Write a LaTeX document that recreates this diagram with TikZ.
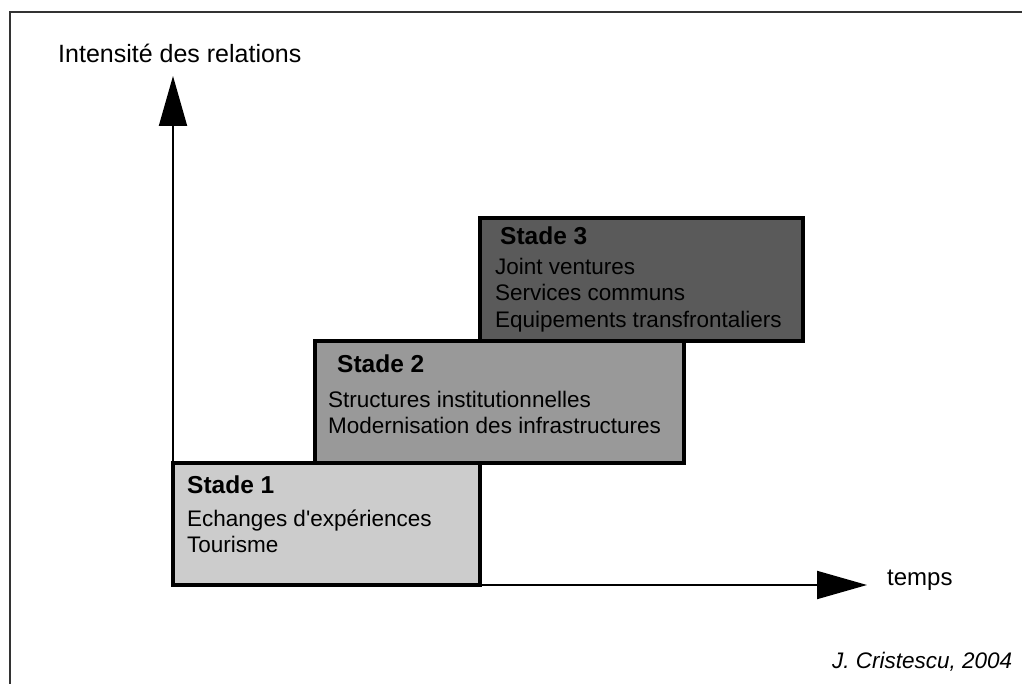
\documentclass[tikz,border=0pt]{standalone}
\usepackage{fontspec}
\setmainfont{Liberation Sans}
\usetikzlibrary{arrows.meta}
\definecolor{stageA}{HTML}{CCCCCC}
\definecolor{stageB}{HTML}{999999}
\definecolor{stageC}{HTML}{5A5A5A}
\definecolor{framegray}{HTML}{333333}
\tikzset{
  stagebox/.style={draw=black, line width=4pt, rectangle, inner sep=0pt, outer sep=0pt, anchor=north west},
  axisline/.style={line width=2pt, -{Triangle[length=50pt,width=28pt]}},
  txt/.style={anchor=base west, inner sep=0pt, font=\fontsize{22.5}{27}\selectfont},
  ttl/.style={txt, font=\fontsize{24.5}{29}\selectfont\bfseries},
}
\begin{document}
\begin{tikzpicture}[x=1pt,y=-1pt]
\useasboundingbox (0,0) rectangle (1022,684);
\fill[white] (0,0) rectangle (1022,684);
% frame
\draw[framegray, line width=2.5pt] (10,684) -- (10,12) -- (1022,12);
% axes
\coordinate (O) at (173,585);
\coordinate (ytip) at (173,76);
\coordinate (xtip) at (867,585);
\draw[axisline] (O) -- (ytip);
\draw[axisline] (O) -- (xtip);
% boxes
\node[stagebox, fill=stageC, minimum width=323pt, minimum height=123pt] (s3) at (480,218) {};
\node[stagebox, fill=stageB, minimum width=369pt, minimum height=122pt] (s2) at (315,341) {};
\node[stagebox, fill=stageA, minimum width=307pt, minimum height=122pt] (s1) at (173,463) {};
% stage 1 text
\node[ttl] (t1) at (187,493) {Stade 1};
\node[txt] (t1a) at (187,526) {Echanges d\textquotesingle expériences};
\node[txt] (t1b) at (187,552) {Tourisme};
% stage 2 text
\node[ttl] (t2) at (337,372) {Stade 2};
\node[txt] (t2a) at (328,407) {Structures institutionnelles};
\node[txt] (t2b) at (328,433) {Modernisation des infrastructures};
% stage 3 text
\node[ttl] (t3) at (500,245) {Stade 3};
\node[txt] (t3a) at (495,275) {Joint ventures};
\node[txt] (t3b) at (495,301) {Services communs};
\node[txt] (t3c) at (495,327) {Equipements transfrontaliers};
% axis labels
\node[txt, font=\fontsize{25}{30}\selectfont] (ylab) at (58,63) {Intensité des relations};
\node[txt, font=\fontsize{24}{29}\selectfont] (xlab) at (887,585) {temps};
\node[txt, font=\fontsize{22.5}{27}\selectfont\itshape] (auth) at (832,668) {J. Cristescu, 2004};
\end{tikzpicture}
\end{document}
